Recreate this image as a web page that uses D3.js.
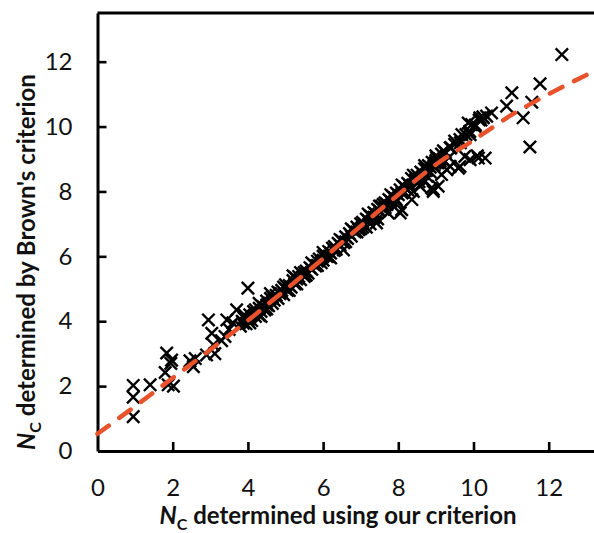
<!DOCTYPE html>
<html>
<head>
<meta charset="utf-8">
<script src="https://cdn.jsdelivr.net/npm/d3@7"></script>
<style>
  body { margin: 0; background: #fff; }
  svg { display: block; font-family: Lato, "Open Sans", sans-serif; }
</style>
</head>
<body>
<div id="chart"></div>
<script>

// N_C values: x = our criterion, y = Brown's criterion
const ourCriterion = [
    0.95, 0.95, 0.95, 1.4, 1.8, 1.84, 1.97, 1.95, 1.88, 2.02, 2.46, 2.55, 2.6,
    2.95, 3.04, 2.9, 3.08, 3.12, 3.39, 3.44, 3.5, 3.7, 4.0, 3.88, 3.6, 3.3,
    3.8, 3.85, 3.9, 3.95, 4.0, 4.05, 4.1, 4.15, 4.2, 4.25, 4.3, 4.3, 4.35, 4.4, 4.45,
    4.5, 4.5, 4.55, 4.6, 4.65, 4.7, 4.75, 4.8, 4.85, 4.9, 4.95, 5.0, 5.0, 5.05,
    5.1, 5.15, 5.2, 5.25, 5.3, 5.35, 5.4, 5.45, 5.5, 5.5, 5.55, 5.6, 5.65, 5.7,
    5.75, 5.8, 5.85, 5.9, 5.95, 6.0, 6.0, 6.05, 6.1, 6.15, 6.2, 6.25, 6.3, 6.35,
    6.4, 6.45, 6.5, 6.55, 6.6, 6.65, 6.7, 6.75, 6.8, 6.85, 6.9, 6.95, 7.0, 7.0,
    7.05, 7.1, 7.15, 7.2, 7.25, 7.25, 7.3, 7.35, 7.4, 7.45, 7.5, 7.55, 7.6, 7.65,
    7.7, 7.75, 7.8, 7.85, 7.9, 7.95, 8.0, 8.05, 8.1, 8.15, 8.2, 8.25, 8.3, 8.35,
    8.45, 8.5, 8.55, 8.6, 8.65, 8.7, 8.75, 8.8, 8.85, 8.9, 8.95, 9.0, 9.05, 9.1,
    4.6, 5.2, 4.3, 6.54, 7.42, 7.96, 8.09, 7.73, 8.05, 7.91, 7.6, 8.36, 8.4, 8.76,
    8.89, 8.93, 9.06, 9.15, 8.98, 9.02, 9.29, 9.6, 9.38, 9.77, 9.91, 10.31, 9.64,
    9.69, 9.91, 9.95, 10.17, 10.35, 10.48, 10.26, 10.13, 10.04, 9.86, 9.64, 9.38,
    9.11, 8.58, 8.93, 10.88, 11.02, 11.55, 11.32, 11.5, 11.77, 12.35, 10.2, 10.1,
    9.5, 9.2, 8.7,
    3.9, 4.05, 4.2, 4.35, 4.5, 4.65, 4.8, 4.95, 5.1, 5.25, 5.4, 5.55, 5.7, 5.85,
    6.0, 6.15, 6.3, 6.45, 6.6, 6.75, 6.9, 7.05, 7.2, 7.35, 7.5, 7.65, 7.8, 7.95,
    8.1, 8.25, 8.4, 8.55, 8.7, 8.85, 9.0, 9.15, 9.25, 9.4, 9.5, 9.65, 9.8, 9.9,
    10.05, 10.15, 10.25, 9.2, 9.35, 7.45, 7.15, 6.2, 5.3
]
const brownCriterion = [
    1.06, 1.66, 2.02, 2.04, 2.42, 3.02, 2.8, 2.7, 2.04, 2.0, 2.78, 2.6, 2.85,
    4.04, 3.63, 2.96, 3.27, 3.0, 3.53, 4.04, 3.75, 4.35, 5.02, 3.94, 3.95, 3.4,
    3.85, 4.0, 4.1, 3.92, 4.05, 4.2, 4.02, 4.3, 4.15, 4.25, 4.4, 4.18, 4.3, 4.45, 4.35,
    4.5, 4.62, 4.48, 4.7, 4.55, 4.65, 4.8, 4.7, 4.85, 4.95, 4.82, 5.0, 5.12, 4.95,
    5.1, 5.05, 5.25, 5.15, 5.3, 5.38, 5.28, 5.45, 5.5, 5.38, 5.55, 5.48, 5.65, 5.6,
    5.75, 5.7, 5.85, 5.92, 5.8, 6.0, 5.88, 6.05, 6.0, 6.15, 6.1, 6.25, 6.3, 6.22,
    6.4, 6.35, 6.48, 6.42, 6.6, 6.55, 6.7, 6.62, 6.8, 6.75, 6.9, 6.82, 7.0, 6.85,
    7.05, 6.95, 7.15, 7.1, 7.25, 7.0, 7.2, 7.35, 7.3, 7.45, 7.4, 7.55, 7.45, 7.65,
    7.6, 7.75, 7.7, 7.85, 7.8, 7.95, 7.9, 8.05, 7.95, 8.15, 8.1, 8.25, 8.2, 8.4,
    8.35, 8.5, 8.4, 8.6, 8.55, 8.7, 8.65, 8.8, 8.75, 8.9, 8.8, 8.95, 8.88, 9.0,
    4.85, 5.4, 4.55, 6.2, 7.03, 7.69, 7.44, 7.34, 7.34, 7.8, 7.6, 7.75, 8.0, 8.47,
    8.11, 8.0, 8.16, 8.52, 8.88, 9.03, 8.67, 8.72, 9.34, 9.08, 8.98, 9.03, 9.6,
    9.75, 9.75, 10.06, 10.27, 10.32, 10.42, 10.27, 9.03, 10.0, 10.11, 8.77, 8.77,
    8.93, 8.16, 8.06, 10.63, 11.04, 10.75, 10.27, 9.37, 11.32, 12.22, 10.2, 9.1,
    9.45, 9.25, 8.3,
    4.2, 3.95, 4.35, 4.15, 4.38, 4.75, 4.9, 5.05, 4.95, 5.35, 5.5, 5.42, 5.8, 5.72,
    6.12, 6.0, 6.18, 6.52, 6.45, 6.85, 6.75, 6.9, 7.3, 7.2, 7.55, 7.5, 7.9, 7.75,
    8.2, 8.05, 8.5, 8.3, 8.8, 8.6, 9.1, 9.15, 9.2, 9.35, 9.55, 9.5, 9.75, 9.85,
    10.05, 10.2, 10.3, 8.95, 9.05, 7.15, 6.9, 5.95, 5.15
]

// dashed trend line
const trendX = [0, 1, 2, 3, 4, 5, 6, 7, 8, 9, 10, 11, 12, 13.2]
const trendY = [0.53, 1.38, 2.25, 3.12, 4.02, 4.97, 5.93, 6.93, 7.9, 8.83, 9.58, 10.35, 11.0, 11.7]

const xTicks = [0, 2, 4, 6, 8, 10, 12]
const yTicks = [0, 2, 4, 6, 8, 10, 12]


const width = 594
const height = 533
const margin = ({top: 13, left: 97.5, bottom: 82})

const svg = d3.select("#chart").append("svg")
    .attr("width", width)
    .attr("height", height)

const x = d3.scaleLinear()
    .domain([0, 14])
    .range([margin.left, margin.left + 14 * 37.6])

const y = d3.scaleLinear()
    .domain([0, 13.5])
    .range([height - margin.bottom, margin.top])

// frame top line
svg.append("line")
    .attr("x1", margin.left).attr("x2", width)
    .attr("y1", margin.top).attr("y2", margin.top)
    .attr("stroke", "#000").attr("stroke-width", 3)

const gx = svg.append("g")
    .attr("transform", `translate(0,${y(0)})`)
    .call(d3.axisBottom(x).tickValues(xTicks).tickSize(-9).tickSizeOuter(0).tickPadding(28))

const gy = svg.append("g")
    .attr("transform", `translate(${margin.left},0)`)
    .call(d3.axisLeft(y).tickValues(yTicks).tickSize(-9).tickSizeOuter(0).tickPadding(25))

for (const g of [gx, gy]) {
    g.select(".domain").attr("stroke-width", 3)
    g.selectAll(".tick line").attr("stroke-width", 2.6)
    g.selectAll(".tick text")
        .attr("font-family", "Lato, sans-serif")
        .attr("font-size", 24)
        .attr("fill", "#111")
}
gx.selectAll(".tick").filter(d => d === 0).select("line").remove()
gy.selectAll(".tick").filter(d => d === 0).select("line").remove()

// markers
const pts = ourCriterion.map((v, i) => [v, brownCriterion[i]])
svg.append("g")
    .selectAll("path")
    .data(pts)
    .join("path")
    .attr("transform", d => `translate(${x(d[0])},${y(d[1])})`)
    .attr("d", "M-6.2,-6.2L6.2,6.2M-6.2,6.2L6.2,-6.2")
    .attr("stroke", "#000")
    .attr("stroke-width", 2.4)
    .attr("fill", "none")

// trend line
const trend = trendX.map((v, i) => [v, trendY[i]])
svg.append("path")
    .datum(trend)
    .attr("d", d3.line().x(d => x(d[0])).y(d => y(d[1])).curve(d3.curveMonotoneX))
    .attr("fill", "none")
    .attr("stroke", "#E8532B")
    .attr("stroke-width", 4.5)
    .attr("stroke-linecap", "round")
    .attr("stroke-dasharray", "14 13")

// axis titles
const xTitle = svg.append("text")
    .attr("x", 338).attr("y", 524)
    .attr("text-anchor", "middle")
    .attr("font-weight", "bold")
    .attr("font-size", 24)
    .attr("fill", "#111")
xTitle.append("tspan").attr("font-style", "italic").text("N")
xTitle.append("tspan").attr("font-size", 16).attr("dy", 6).text("C")
xTitle.append("tspan").attr("dy", -6).text(" determined using our criterion")

const yTitle = svg.append("text")
    .attr("transform", `translate(35,262) rotate(-90)`)
    .attr("text-anchor", "middle")
    .attr("font-weight", "bold")
    .attr("font-size", 24)
    .attr("fill", "#111")
yTitle.append("tspan").attr("font-style", "italic").text("N")
yTitle.append("tspan").attr("font-size", 16).attr("dy", 6).text("C")
yTitle.append("tspan").attr("dy", -6).text(" determined by Brown's criterion")

</script>
</body>
</html>
